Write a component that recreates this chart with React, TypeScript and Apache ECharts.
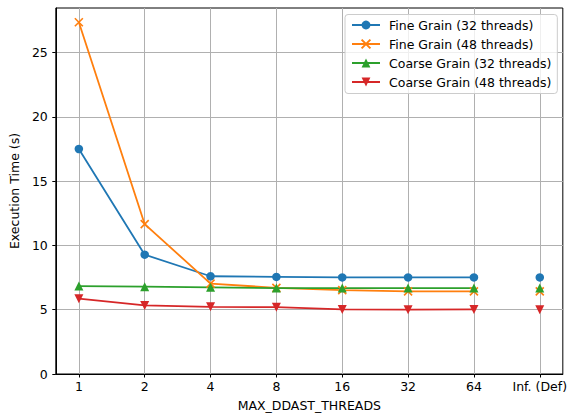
import React, { useEffect, useRef } from "react";
import * as echarts from "echarts";

const categories = ["1", "2", "4", "8", "16", "32", "64", "Inf. (Def)"];
const fine32 = [17.5, 9.28, 7.6, 7.55, 7.51, 7.51, 7.51, 7.51];
const fine48 = [27.35, 11.65, 7.03, 6.7, 6.52, 6.42, 6.42, 6.42];
const coarse32 = [6.84, 6.79, 6.74, 6.68, 6.68, 6.68, 6.68, 6.68];
const coarse48 = [5.86, 5.33, 5.22, 5.2, 5.02, 5.0, 5.02, 5.0];
const yTicks = [0, 5, 10, 15, 20, 25];

const FONT = "DejaVu Sans";

export default function App() {
  const ref = useRef<HTMLDivElement>(null);
  useEffect(() => {
    if (!ref.current) return;
    const chart = echarts.init(ref.current, null, { renderer: "svg" });
    const xIdx = categories.map((_, i) => i);
    const defs = [
      { name: "Fine Grain (32 threads)", data: fine32, color: "#1f77b4", symbol: "circle", size: 8.5, rotate: 0, stroke: false },
      { name: "Fine Grain (48 threads)", data: fine48, color: "#ff7f0e", symbol: "path://M0 0L10 10M10 0L0 10", size: 8, rotate: 0, stroke: true },
      { name: "Coarse Grain (32 threads)", data: coarse32, color: "#2ca02c", symbol: "triangle", size: 9, rotate: 0, stroke: false },
      { name: "Coarse Grain (48 threads)", data: coarse48, color: "#d62728", symbol: "triangle", size: 9, rotate: 180, stroke: false },
    ];
    const series: any[] = [];
    defs.forEach((d) => {
      const itemStyle: any = { color: d.color };
      if (d.stroke) {
        itemStyle.borderColor = d.color;
        itemStyle.borderWidth = 1.6;
      }
      const main = d.data.slice(0, 7).map((v, i) => [xIdx[i], v]);
      const last = [[xIdx[7], d.data[7]]];
      [main, last].forEach((data) => {
        series.push({
          type: "line",
          name: d.name,
          data,
          symbol: d.symbol,
          symbolSize: d.size,
          symbolRotate: d.rotate,
          showAllSymbol: true,
          lineStyle: { color: d.color, width: 1.8 },
          itemStyle,
          emphasis: { disabled: true },
          z: 3,
        });
      });
    });
    chart.setOption({
      animation: false,
      grid: {
        left: 55,
        right: 5,
        top: 8,
        bottom: 39,
        show: true,
        borderColor: "#000",
        borderWidth: 1,
        backgroundColor: "transparent",
      },
      legend: {
        orient: "vertical",
        left: 345,
        top: 14.5,
        padding: [4, 6, 5, 6],
        itemWidth: 28,
        itemHeight: 11,
        itemGap: 6,
        backgroundColor: "rgba(255,255,255,0.8)",
        borderColor: "#cccccc",
        borderWidth: 1,
        borderRadius: 3,
        data: defs.map((d) => d.name),
        textStyle: { fontFamily: FONT, fontSize: 12.5, color: "#000", padding: [0, 0, 0, 4] },
        z: 10,
      },
      xAxis: {
        type: "value",
        min: -0.35,
        max: 7.35,
        name: "MAX_DDAST_THREADS",
        nameLocation: "middle",
        nameGap: 25,
        nameTextStyle: { fontFamily: FONT, fontSize: 12.5, color: "#000" },
        axisLine: { onZero: false, lineStyle: { color: "#000", width: 1 } },
        axisTick: { show: true, length: 3.5, customValues: xIdx, lineStyle: { color: "#000" } },
        axisLabel: {
          customValues: xIdx,
          margin: 6,
          fontFamily: FONT,
          fontSize: 12.5,
          color: "#000",
          formatter: (v: number) => categories[Math.round(v)] ?? "",
        },
        splitLine: { show: true, lineStyle: { color: "#b0b0b0", width: 1 } },
      },
      yAxis: {
        type: "value",
        min: 0,
        max: 28.46,
        name: "Execution Time (s)",
        nameLocation: "middle",
        nameGap: 30,
        nameTextStyle: { fontFamily: FONT, fontSize: 12.5, color: "#000" },
        axisLine: { show: true, onZero: false, lineStyle: { color: "#000", width: 1 } },
        axisTick: { show: true, length: 3.5, customValues: yTicks, lineStyle: { color: "#000" } },
        axisLabel: {
          customValues: yTicks,
          margin: 8,
          fontFamily: FONT,
          fontSize: 12.5,
          color: "#000",
        },
        splitLine: { show: true, lineStyle: { color: "#b0b0b0", width: 1 } },
      },
      series,
    });
    return () => chart.dispose();
  }, []);
  return <div ref={ref} style={{ width: 570, height: 417, position: "absolute", left: 0, top: 0 }} />;
}
